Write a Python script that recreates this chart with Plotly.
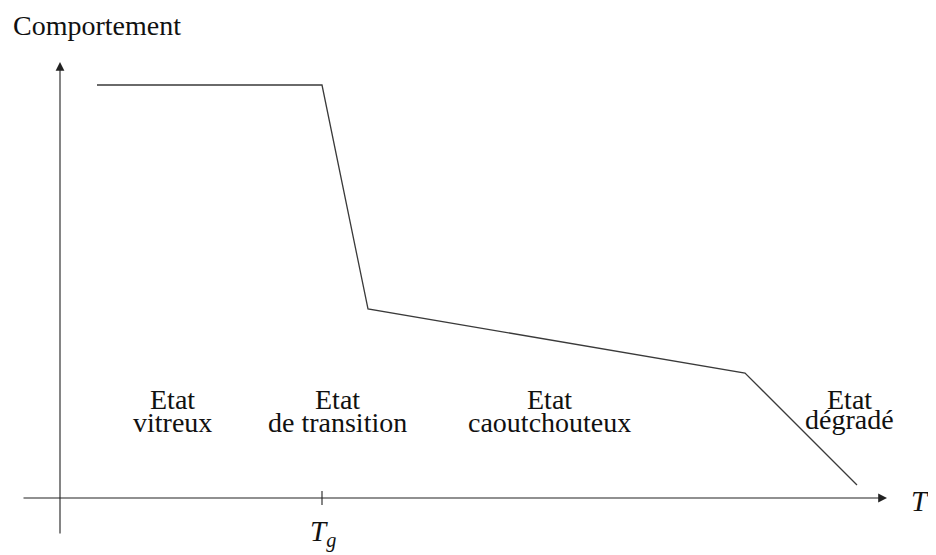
import plotly.graph_objects as go

# Data (abstract units; origin at the axes crossing)
T_values = [37, 262, 308, 685, 797]
behaviour = [413, 413, 189, 125, 13]
Tg = 262

state_labels = [["Etat", "vitreux"], ["Etat", "de transition"], ["Etat", "caoutchouteux"], ["Etat", "dégradé"]]
state_x = [112, 277, 489, 789]
state_y1 = [99, 99, 99, 99]
state_y2 = [76, 76, 76, 79]

FONT = "Liberation Serif"

fig = go.Figure()
fig.add_trace(go.Scatter(x=T_values, y=behaviour, mode="lines",
                         line=dict(color="#3a3a3a", width=1.3), hoverinfo="skip"))

# axes (arrows)
fig.add_annotation(x=827, y=0, ax=-38, ay=0, xref="x", yref="y", axref="x", ayref="y",
                   showarrow=True, arrowhead=2, arrowsize=1.6, arrowwidth=1.1, arrowcolor="#222", text="")
fig.add_annotation(x=0, y=436, ax=0, ay=-37, xref="x", yref="y", axref="x", ayref="y",
                   showarrow=True, arrowhead=2, arrowsize=1.6, arrowwidth=1.1, arrowcolor="#222", text="")
# Tg tick
fig.add_shape(type="line", x0=Tg, x1=Tg, y0=-7, y1=7, xref="x", yref="y", line=dict(color="#222", width=1.1))

fig.add_annotation(x=-49, y=473, xref="x", yref="y", text="Comportement", showarrow=False,
                   xanchor="left", yanchor="middle", font=dict(family=FONT, size=28, color="#111"))
fig.add_annotation(x=860, y=-3, xref="x", yref="y", text="<i>T</i>", showarrow=False,
                   xanchor="center", yanchor="middle", font=dict(family=FONT, size=29, color="#111"))
fig.add_annotation(x=Tg + 1, y=-35, xref="x", yref="y", text="<i>T</i><sub><i>g</i></sub>", showarrow=False,
                   xanchor="center", yanchor="middle", font=dict(family=FONT, size=29, color="#111"))

for lab, xx, y1, y2 in zip(state_labels, state_x, state_y1, state_y2):
    fig.add_annotation(x=xx, y=y1, xref="x", yref="y", text=lab[0], showarrow=False,
                       xanchor="center", yanchor="middle", font=dict(family=FONT, size=28, color="#111"))
    fig.add_annotation(x=xx, y=y2, xref="x", yref="y", text=lab[1], showarrow=False,
                       xanchor="center", yanchor="middle", font=dict(family=FONT, size=28, color="#111"))

# page body has an 8px margin: figure is 928x547 and starts at (8, 8)
fig.update_xaxes(range=[-52, 876], visible=False, fixedrange=True)
fig.update_yaxes(range=[-57, 490], visible=False, fixedrange=True)
fig.update_layout(width=928, height=547, margin=dict(l=0, r=0, t=0, b=0),
                  paper_bgcolor="white", plot_bgcolor="white", showlegend=False)

fig.write_html("out.html")
